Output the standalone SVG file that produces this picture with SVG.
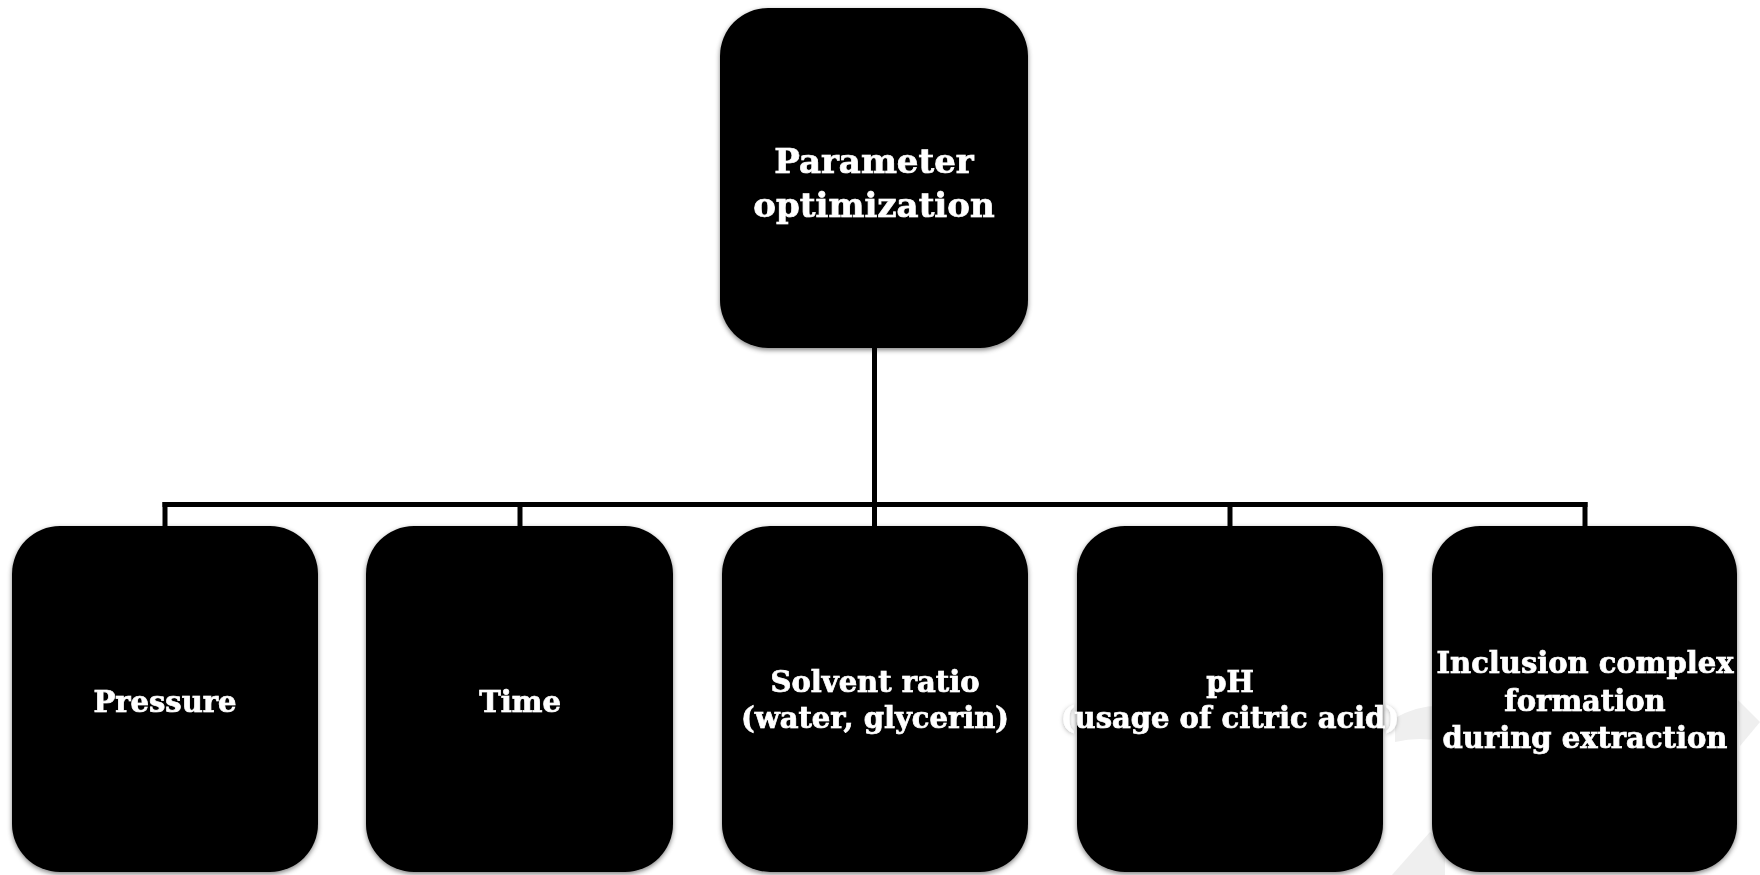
<svg xmlns="http://www.w3.org/2000/svg" width="1760" height="875" viewBox="0 0 1760 875">
<defs>
<filter id="sh" x="-10%" y="-10%" width="120%" height="120%">
<feGaussianBlur in="SourceAlpha" stdDeviation="2.5"/>
<feOffset dx="0" dy="2" result="b"/>
<feFlood flood-color="#000" flood-opacity="0.5"/>
<feComposite in2="b" operator="in"/>
<feMerge><feMergeNode/><feMergeNode in="SourceGraphic"/></feMerge>
</filter>
<filter id="tg" x="-10%" y="-30%" width="120%" height="160%">
<feGaussianBlur in="SourceAlpha" stdDeviation="2"/>
<feOffset dx="0" dy="1" result="b"/>
<feFlood flood-color="#000" flood-opacity="0.3"/>
<feComposite in2="b" operator="in"/>
<feMerge><feMergeNode/><feMergeNode in="SourceGraphic"/></feMerge>
</filter>
</defs>
<style>
.box{fill:#060606;filter:url(#sh)}
.t{font-family:"DejaVu Serif","Liberation Serif",serif;font-weight:bold;fill:#fff;stroke:#fff;stroke-width:0.7;text-anchor:middle;filter:url(#tg)}
.top{font-size:34px}
.bot{font-size:29px}
.c{stroke:#000;stroke-width:5;fill:none}
.wm{fill:#efefef}
</style>
<rect width="1760" height="875" fill="#fff"/>
<g id="watermark">
<path class="wm" d="M1395,718 Q1420,704 1445,706 L1445,742 Q1420,736 1395,742 Z"/>
<path class="wm" d="M1392,875 L1430,832 L1445,842 L1445,875 Z"/>
<path class="wm" d="M1738,700 L1760,722 L1740,746 Z"/>
</g>
<g id="connectors">
<line class="c" x1="874.5" y1="346" x2="874.5" y2="528"/>
<line class="c" x1="162.5" y1="504.5" x2="1587.5" y2="504.5"/>
<line class="c" x1="165" y1="502" x2="165" y2="528"/>
<line class="c" x1="520" y1="502" x2="520" y2="528"/>
<line class="c" x1="1230" y1="502" x2="1230" y2="528"/>
<line class="c" x1="1585" y1="502" x2="1585" y2="528"/>
</g>
<g id="node-top">
<rect class="box" x="720" y="8" width="308" height="340" rx="48"/>
<text class="t top" x="874"><tspan x="874" y="173">Parameter</tspan><tspan x="874" y="217">optimization</tspan></text>
</g>
<g id="node-pressure">
<rect class="box" x="12" y="526" width="306" height="346" rx="48"/>
<text class="t bot" x="165" y="712">Pressure</text>
</g>
<g id="node-time">
<rect class="box" x="366" y="526" width="307" height="346" rx="48"/>
<text class="t bot" x="520" y="712">Time</text>
</g>
<g id="node-solvent">
<rect class="box" x="722" y="526" width="306" height="346" rx="48"/>
<text class="t bot"><tspan x="875" y="692">Solvent ratio</tspan><tspan x="875" y="728">(water, glycerin)</tspan></text>
</g>
<g id="node-ph">
<rect class="box" x="1077" y="526" width="306" height="346" rx="48"/>
<text class="t bot"><tspan x="1230" y="692">pH</tspan><tspan x="1230" y="728">(usage of citric acid)</tspan></text>
</g>
<g id="node-inclusion">
<rect class="box" x="1432" y="526" width="305" height="346" rx="48"/>
<text class="t bot"><tspan x="1585" y="673">Inclusion complex</tspan><tspan x="1585" y="711">formation</tspan><tspan x="1585" y="748">during extraction</tspan></text>
</g>
</svg>
